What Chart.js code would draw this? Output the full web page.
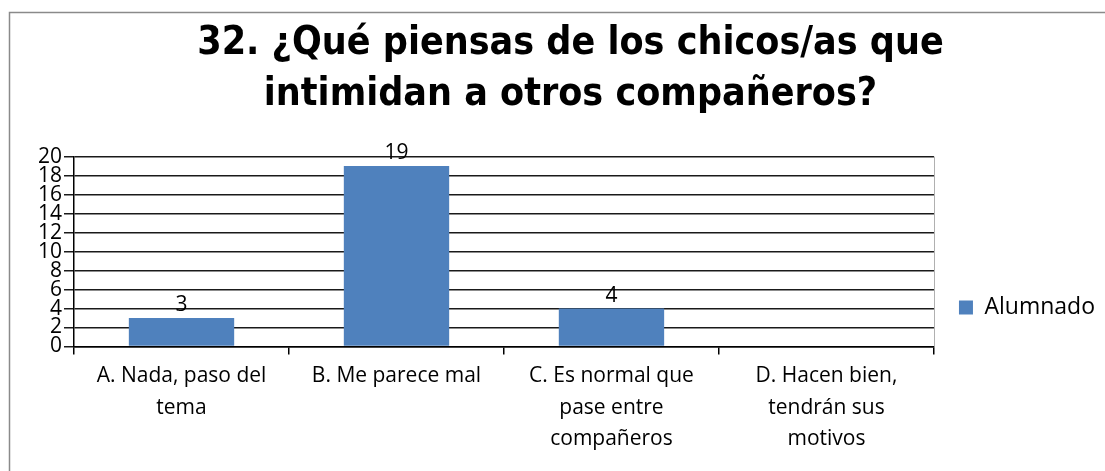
<!DOCTYPE html>
<html>
<head>
<meta charset="utf-8">
<script src="https://cdn.jsdelivr.net/npm/chart.js@4.4.1/dist/chart.umd.min.js"></script>
<style>
  html, body { margin: 0; padding: 0; background: #fff; }
  #wrap { position: relative; width: 1105px; height: 471px; }
</style>
</head>
<body>
<div id="wrap"><canvas id="c" width="1105" height="471"></canvas></div>
<script>
const titleLines = ["32. ¿Qué piensas de los chicos/as que", "intimidan a otros compañeros?"];
const categories = [
  ["A. Nada, paso del", "tema"],
  ["B. Me parece mal"],
  ["C. Es normal que", "pase entre", "compañeros"],
  ["D. Hacen bien,", "tendrán sus", "motivos"]
];
const seriesName = "Alumnado";
const alumnado = [3, 19, 4, 0];
const yTicks = [0, 2, 4, 6, 8, 10, 12, 14, 16, 18, 20];

const frame = {
  id: 'frame',
  beforeDraw(chart) {
    const ctx = chart.ctx;
    ctx.save();
    ctx.strokeStyle = '#8a8a8a';
    ctx.lineWidth = 1.5;
    ctx.beginPath();
    ctx.moveTo(9.5, 471);
    ctx.lineTo(9.5, 12.5);
    ctx.lineTo(1105, 12.5);
    ctx.stroke();
    ctx.restore();
  },
  afterDatasetsDraw(chart) {
    const ctx = chart.ctx;
    const a = chart.chartArea;
    ctx.save();
    ctx.strokeStyle = '#b0b0b0';
    ctx.lineWidth = 1;
    ctx.beginPath();
    ctx.moveTo(Math.round(a.right) + 0.5, a.top);
    ctx.lineTo(Math.round(a.right) + 0.5, a.bottom);
    ctx.stroke();
    const meta = chart.getDatasetMeta(0);
    ctx.fillStyle = '#000';
    ctx.font = '21px "Open Sans", sans-serif';
    ctx.textAlign = 'center';
    ctx.textBaseline = 'alphabetic';
    meta.data.forEach((bar, i) => {
      const v = chart.data.datasets[0].data[i];
      if (!v) return;
      ctx.fillText(String(v), bar.x, bar.y - 7);
    });
    ctx.restore();
  }
};

new Chart(document.getElementById('c'), {
  type: 'bar',
  data: {
    labels: categories,
    datasets: [{
      label: seriesName,
      data: alumnado,
      backgroundColor: '#4F81BD',
      borderWidth: 0,
      categoryPercentage: 1.0,
      barPercentage: 0.49
    }]
  },
  options: {
    responsive: false,
    animation: false,
    layout: { padding: { left: 36, right: 0, top: 19, bottom: 10 } },
    plugins: {
      title: {
        display: true,
        text: titleLines,
        color: '#000',
        font: { family: '"DejaVu Sans Condensed", sans-serif', size: 39, weight: 'bold', lineHeight: 1.29 },
        padding: { top: 0, bottom: 37 }
      },
      legend: {
        display: true,
        position: 'right',
        title: { display: true, text: ' ', font: { size: 7, lineHeight: 1 }, padding: { top: 0, bottom: 128 } },
        labels: {
          color: '#000',
          boxWidth: 14,
          boxHeight: 14,
          padding: 25,
          font: { family: '"Open Sans", sans-serif', size: 23 }
        }
      },
      tooltip: { enabled: false }
    },
    scales: {
      x: {
        grid: { display: true, drawOnChartArea: false, drawTicks: true, tickLength: 8, color: '#000', lineWidth: 1.5, offset: true },
        border: { display: true, color: '#000', width: 1.5 },
        ticks: {
          color: '#000',
          autoSkip: false,
          maxRotation: 0,
          padding: 6,
          font: { family: '"Open Sans", sans-serif', size: 21, lineHeight: 1.5 }
        }
      },
      y: {
        min: 0,
        max: 20,
        grid: { display: true, color: '#1a1a1a', lineWidth: 1.5, drawTicks: true, tickLength: 10 },
        border: { display: true, color: '#000', width: 1.5 },
        afterBuildTicks(scale) { scale.ticks = yTicks.map(v => ({ value: v })); },
        ticks: {
          color: '#000',
          autoSkip: false,
          padding: 2,
          font: { family: '"Open Sans", sans-serif', size: 21 }
        }
      }
    }
  },
  plugins: [frame]
});
</script>
</body>
</html>
